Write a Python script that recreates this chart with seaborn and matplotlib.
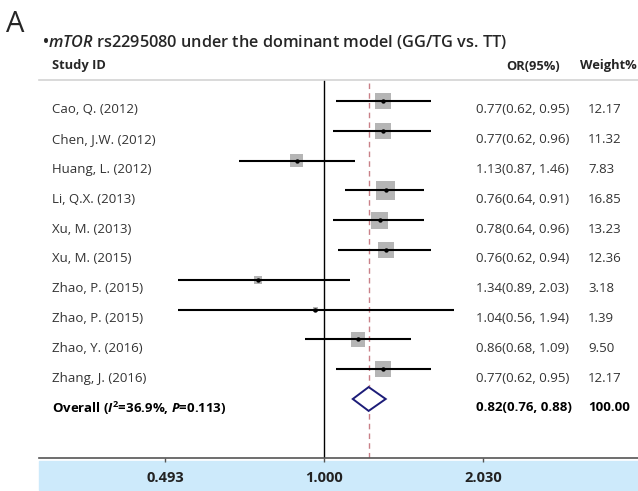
import numpy as np
import pandas as pd
import matplotlib
matplotlib.use("Agg")
import matplotlib.pyplot as plt
import matplotlib.transforms as mtransforms
from matplotlib.patches import Rectangle, Polygon
from matplotlib.ticker import NullLocator
import seaborn as sns

sns.set_style("white")
plt.rcParams["font.family"] = ["Open Sans", "DejaVu Sans"]
plt.rcParams["mathtext.fontset"] = "custom"
plt.rcParams["mathtext.rm"] = "Open Sans"
plt.rcParams["mathtext.it"] = "Open Sans:italic:semibold"
plt.rcParams["mathtext.bf"] = "Open Sans:bold"
plt.rcParams["mathtext.bfit"] = "Open Sans:italic:bold"

# data
studies = ["Cao, Q. (2012)", "Chen, J.W. (2012)", "Huang, L. (2012)", "Li, Q.X. (2013)",
           "Xu, M. (2013)", "Xu, M. (2015)", "Zhao, P. (2015)", "Zhao, P. (2015)",
           "Zhao, Y. (2016)", "Zhang, J. (2016)"]
odds = [0.77, 0.77, 1.13, 0.76, 0.78, 0.76, 1.34, 1.04, 0.86, 0.77]
lower = [0.62, 0.62, 0.87, 0.64, 0.64, 0.62, 0.89, 0.56, 0.68, 0.62]
upper = [0.95, 0.96, 1.46, 0.91, 0.96, 0.94, 2.03, 1.94, 1.09, 0.95]
weights = [12.17, 11.32, 7.83, 16.85, 13.23, 12.36, 3.18, 1.39, 9.50, 12.17]
overall_or = [0.82, 0.76, 0.88]
overall_weight = 100.00
tick_values = [0.493, 1.000, 2.030]
tick_labels = ["0.493", "1.000", "2.030"]

W, H = 638, 491

def fx(px):
  return px / W

def fy(py):
  return 1 - py / H

# the chart draws the reciprocal of each OR
df = pd.DataFrame({
  "study": studies,
  "x": 1 / np.array(odds),
  "lo": np.maximum(1 / np.array(upper), 0.522),
  "hi": 1 / np.array(lower),
  "y": np.arange(len(studies)),
  "weight": weights,
})
overall_y = len(studies)

fig = plt.figure(figsize=(W / 100, H / 100), dpi=100)
ax = fig.add_axes([fx(39), fy(458), fx(638) - fx(39), fy(80) - fy(458)])

k = 11.1
sns.scatterplot(data=df, x="x", y="y", size="weight", sizes=(k * min(weights), k * max(weights)),
                size_norm=(min(weights), max(weights)), marker="s", color="#b5b5b5",
                edgecolor="none", legend=False, ax=ax, zorder=2)
ax.hlines(df["y"], df["lo"], df["hi"], color="black", lw=1.5, zorder=3)
ax.scatter(df["x"], df["y"], s=10, color="black", zorder=4, linewidths=0)

ov = 1 / np.array(overall_or)
ax.add_patch(Polygon([(ov[2], overall_y), (ov[0], overall_y - 0.4), (ov[1], overall_y),
                      (ov[0], overall_y + 0.4)], closed=True, facecolor="white",
                     edgecolor="#1c1c78", lw=1.4, zorder=3))
ax.axvline(1.0, color="black", lw=1, zorder=1)
ax.axvline(ov[0], color="#c98088", lw=1, dashes=(4, 3), zorder=1)

ax.set_xscale("log")
ax.set_xlim(0.281, 4.047)
ax.set_ylim(11.98, -0.705)
ax.set_xticks(tick_values)
ax.set_xticklabels(tick_labels, fontweight="bold", fontsize=10.5, color="#222222")
ax.xaxis.set_minor_locator(NullLocator())
ax.set_yticks([])
ax.set_xlabel("")
ax.set_ylabel("")
ax.tick_params(axis="x", bottom=True, direction="out", length=3, width=1, color="#555555", pad=6)
for side in ["left", "right"]:
  ax.spines[side].set_visible(False)
ax.spines["top"].set_color("#d3d3d3")
ax.spines["top"].set_linewidth(1.2)
ax.spines["bottom"].set_color("#555555")
ax.spines["bottom"].set_linewidth(1.2)

fig.patches.append(Rectangle((fx(39), fy(490)), fx(638) - fx(39), fy(461) - fy(490),
                             transform=fig.transFigure, color="#cdeafb", zorder=-1))

trans = mtransforms.blended_transform_factory(fig.transFigure, ax.transData)
body = dict(fontsize=9.5, color="#333333", va="center", transform=trans)
for _, row in df.iterrows():
  i = row["y"]
  ax.text(fx(52), i + 0.3, row["study"], ha="left", **body)
  ax.text(fx(476), i + 0.3, f"{odds[i]:.2f}({lower[i]:.2f}, {upper[i]:.2f})", ha="left", **body)
  ax.text(fx(588), i + 0.3, f"{weights[i]:.2f}", ha="left", **body)

bold = dict(body, fontweight="bold", color="black")
ax.text(fx(52), overall_y + 0.3, r"Overall ($\mathbfit{I}^{\mathbf{2}}$=36.9%, $\mathbfit{P}$=0.113)",
        ha="left", **bold)
ax.text(fx(476), overall_y + 0.3, f"{overall_or[0]:.2f}({overall_or[1]:.2f}, {overall_or[2]:.2f})",
        ha="left", **bold)
ax.text(fx(588), overall_y + 0.3, f"{overall_weight:.2f}", ha="left", **bold)

fig.text(fx(52), fy(66), "Study ID", fontsize=9.3, fontweight="bold", va="center", ha="left")
fig.text(fx(560), fy(66), "OR(95%)", fontsize=9.3, fontweight="bold", va="center", ha="right")
fig.text(fx(580), fy(66), "Weight%", fontsize=9.3, fontweight="bold", va="center", ha="left")

fig.text(fx(6), fy(24), "A", fontsize=21, va="center", ha="left")
fig.text(fx(42), fy(42), r"•$\mathit{mTOR}$ rs2295080 under the dominant model (GG/TG vs. TT)",
         fontsize=11.7, fontweight="semibold", va="center", ha="left")

fig.savefig("out.png", dpi=100)
